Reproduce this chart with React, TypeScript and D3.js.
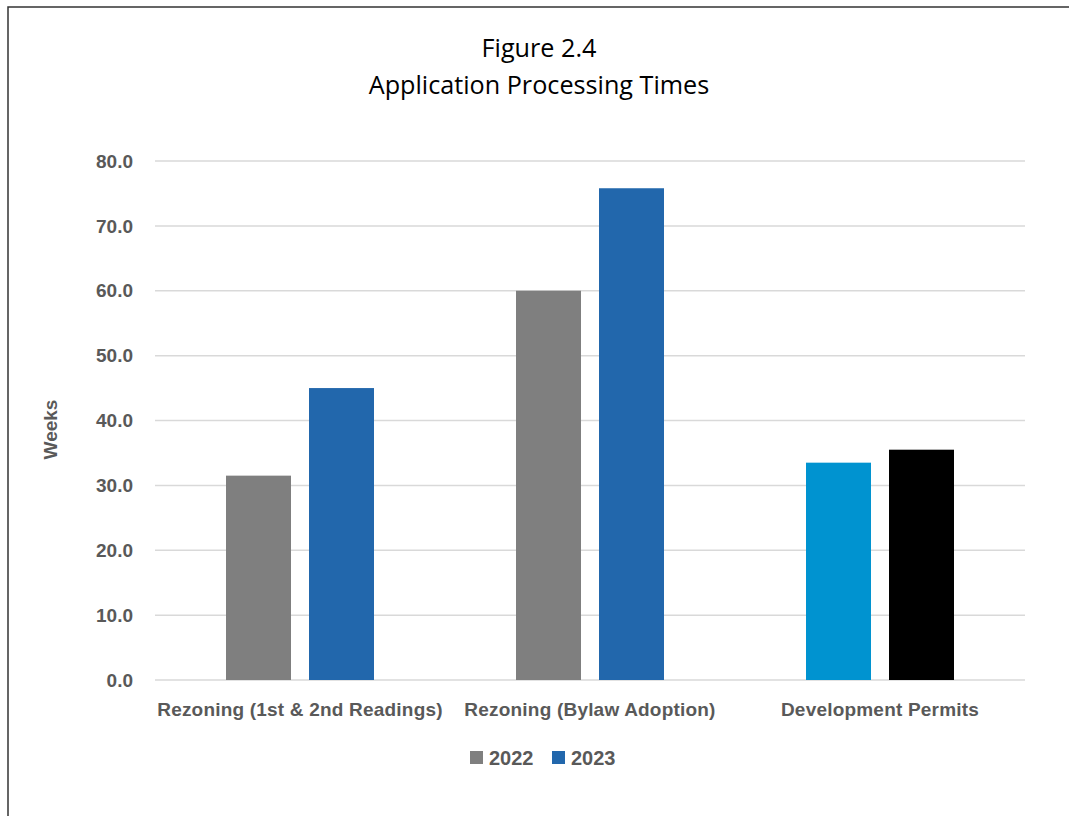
import React from "react";
import * as d3 from "d3";

const categories = ["Rezoning (1st & 2nd Readings)", "Rezoning (Bylaw Adoption)", "Development Permits"];
const series = ["2022", "2023"];
const values2022 = [31.5, 60.0, 33.5];
const values2023 = [45.0, 75.8, 35.5];
const barColors2022 = ["#7f7f7f", "#7f7f7f", "#0093d0"];
const barColors2023 = ["#2267ac", "#2267ac", "#000000"];
const legendColors = ["#7f7f7f", "#2267ac"];
const yTicks = [0, 10, 20, 30, 40, 50, 60, 70, 80];

const W = 1069;
const H = 816;
const left = 155;
const right = 1025;
const top = 161;
const bottom = 680;

export default function App() {
  const x = d3.scaleBand<string>().domain(categories).range([left, right]).paddingInner(0).paddingOuter(0);
  const x1 = d3.scaleBand<string>().domain(series).range([71, 219]).paddingInner(0.217).paddingOuter(0);
  const y = d3.scaleLinear().domain([0, 80]).range([bottom, top]);
  const font = "'Liberation Sans', Arial, sans-serif";
  const vals = [values2022, values2023];
  const cols = [barColors2022, barColors2023];
  return (
    <svg width={W} height={H} style={{ position: "absolute", left: 0, top: 0 }}>
      <rect x={0} y={0} width={W} height={H} fill="#fff" />
      <rect x={8} y={7} width={W + 20} height={H + 20} fill="none" stroke="#333" strokeWidth={1.5} />
      <text x={539} y={57} textAnchor="middle" fontFamily="'Open Sans', sans-serif" fontSize={25.2} fill="#000">Figure 2.4</text>
      <text x={539} y={94} textAnchor="middle" fontFamily="'Open Sans', sans-serif" fontSize={25.2} fill="#000">Application Processing Times</text>
      {yTicks.map((t) => (
        <g key={t}>
          <line x1={left} x2={right} y1={y(t)} y2={y(t)} stroke="#d9d9d9" strokeWidth={1.5} />
          <text x={133} y={y(t)} dy="0.35em" textAnchor="end" fontFamily={font} fontWeight="bold" fontSize={19} fill="#595959">{t.toFixed(1)}</text>
        </g>
      ))}
      {categories.map((c, i) => (
        <g key={c}>
          {series.map((s, j) => (
            <rect key={s} x={(x(c) as number) + (x1(s) as number)} y={y(vals[j][i])} width={x1.bandwidth()} height={y(0) - y(vals[j][i])} fill={cols[j][i]} />
          ))}
          <text x={(x(c) as number) + x.bandwidth() / 2} y={716} textAnchor="middle" fontFamily={font} fontWeight="bold" fontSize={19} letterSpacing={0.2} fill="#595959">{c}</text>
        </g>
      ))}
      <text transform={`translate(57,${(top + bottom) / 2 + 9}) rotate(-90)`} textAnchor="middle" fontFamily={font} fontWeight="bold" fontSize={19} fill="#595959">Weeks</text>
      {series.map((s, j) => (
        <g key={s} transform={`translate(470,750)`}>
          <rect x={j * 82} y={1} width={13} height={13} fill={legendColors[j]} />
          <text x={j * 82 + 19} y={7.5} dy="0.35em" fontFamily={font} fontWeight="bold" fontSize={20} fill="#595959">{s}</text>
        </g>
      ))}
    </svg>
  );
}
